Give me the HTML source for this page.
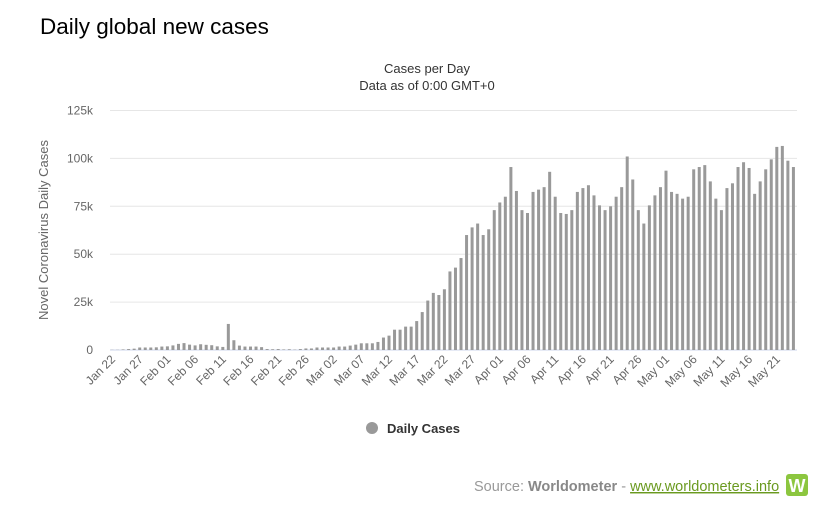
<!DOCTYPE html>
<html><head><meta charset="utf-8">
<style>
body{margin:0;background:#fff;width:831px;height:507px;overflow:hidden;font-family:"Liberation Sans",sans-serif;}
</style></head>
<body>
<div style="position:absolute;left:40px;top:14px;font-size:22.5px;color:#000;">Daily global new cases</div>
<svg id="chart" width="831" height="507" style="position:absolute;left:0;top:0;">
<text x="427" y="73" text-anchor="middle" font-size="13" fill="#333">Cases per Day</text>
<text x="427" y="90" text-anchor="middle" font-size="13" fill="#333">Data as of 0:00 GMT+0</text>
<text transform="translate(48,230) rotate(-90)" text-anchor="middle" font-size="13" fill="#666">Novel Coronavirus Daily Cases</text>
<g id="grid"></g><g id="bars"></g><g id="xlabels"></g>
<g>
<circle cx="372" cy="428" r="6" fill="#999"/>
<text x="387" y="433" font-size="13" font-weight="bold" fill="#333">Daily Cases</text>
</g>
<text x="474" y="491" font-size="14.5" fill="#999">Source: <tspan font-weight="bold" fill="#888">Worldometer</tspan> - <tspan fill="#6a9a1f" text-decoration="underline">www.worldometers.info</tspan></text>
<g>
<rect x="786" y="474" width="22" height="22" rx="3" fill="#8cc63f"/>
<text x="797" y="492" text-anchor="middle" font-size="18" font-weight="bold" fill="#fff">W</text>
</g>
</svg>
<script>
const values=[0.1,0.1,0.3,0.5,0.7,1.3,1.3,1.3,1.4,1.8,1.9,2.4,3.2,3.6,2.8,2.4,3.0,2.7,2.5,1.9,1.6,13.6,5.1,2.3,1.8,1.8,1.8,1.5,0.5,0.4,0.5,0.3,0.4,0.2,0.5,0.8,0.8,1.3,1.3,1.3,1.3,1.8,1.8,2.3,2.8,3.5,3.5,3.5,4.2,6.5,7.5,10.6,10.6,12.2,12.2,15.1,19.8,25.8,29.8,28.7,
31.7,41,43,48,60,64,66,60,63,73,77,80,95.5,83,73,71.5,82.5,83.7,85,93,80,71.5,71,73,82.5,84.5,86,80.7,75.5,73,75,80,85,101,89,73,66,75.5,80.7,85,93.6,82.5,81.5,79,80,94.3,95.5,96.5,88,79,73,84.5,87,95.5,98,95,81.5,88,94.3,99.5,106,106.5,98.8,95.5];
const yTicks=[0,25,50,75,100,125];
const yTickLabels=["0","25k","50k","75k","100k","125k"];
const monthNames=["Jan","Feb","Mar","Apr","May"];
const monthDays=[31,29,31,30,31];
const NS="http://www.w3.org/2000/svg";
const x0=112,step=5.54,yBase=350,pxPerK=47.9/25;
function xs(i){return x0+i*step;}
function ys(v){return yBase-v*pxPerK;}
function dateLabel(i){let m=0,d=22+i;while(d>monthDays[m]){d-=monthDays[m];m++;}return monthNames[m]+" "+(d<10?"0"+d:d);}
const grid=document.getElementById('grid');
yTicks.forEach((t,k)=>{
  const l=document.createElementNS(NS,'line');
  
  
  l.setAttribute('x1',110);l.setAttribute('x2',797);l.setAttribute('y1',ys(t));l.setAttribute('y2',ys(t));
  l.setAttribute('stroke',t===0?'#ccd6eb':'#e6e6e6');l.setAttribute('stroke-width',1);
  grid.appendChild(l);
  const tx=document.createElementNS(NS,'text');
  
  
  tx.setAttribute('x',93);tx.setAttribute('y',ys(t)+4);tx.setAttribute('text-anchor','end');
  tx.setAttribute('font-size','12');tx.setAttribute('fill','#666');tx.textContent=yTickLabels[k];
  grid.appendChild(tx);
});
const bars=document.getElementById('bars');
values.forEach((v,i)=>{
  const r=document.createElementNS(NS,'rect');
  
  
  r.setAttribute('x',xs(i)-1.5);r.setAttribute('width',3);
  r.setAttribute('y',ys(v));r.setAttribute('height',Math.max(0,yBase-ys(v)));
  r.setAttribute('fill','#999');
  bars.appendChild(r);
});
const xl=document.getElementById('xlabels');
for(let i=0;i<values.length;i+=5){
  const t=document.createElementNS(NS,'text');
  
  
  t.setAttribute('transform','translate('+(xs(i)+4)+',360) rotate(-45)');
  t.setAttribute('text-anchor','end');t.setAttribute('font-size','12');t.setAttribute('fill','#666');
  t.textContent=dateLabel(i);
  xl.appendChild(t);
}
</script>
</body></html>
